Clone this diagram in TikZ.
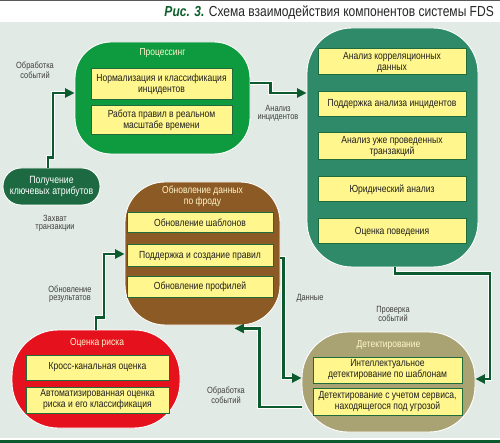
\documentclass[tikz,border=0pt]{standalone}
\usepackage{fontspec}
\setmainfont{Liberation Sans}
\newfontfamily\cond[FakeStretch=0.83]{Liberation Sans}
\usetikzlibrary{arrows.meta}
\definecolor{bgc}{HTML}{E2EAE5}
\definecolor{procc}{HTML}{0E9A3E}
\definecolor{analc}{HTML}{2E8A69}
\definecolor{recvc}{HTML}{1D6A42}
\definecolor{brownc}{HTML}{8C5A24}
\definecolor{redc}{HTML}{E5121E}
\definecolor{olivec}{HTML}{A9A373}
\definecolor{yboxc}{HTML}{FFF68E}
\definecolor{bordc}{HTML}{1F6B3C}
\definecolor{connc}{HTML}{0B5B2E}
\definecolor{ttlc}{HTML}{FFF6CC}
\definecolor{figc}{HTML}{0E5E2C}
\tikzset{
  zone/.style={rectangle, rounded corners=#1, draw=white, line width=0.9pt, inner sep=0pt},
  ybox/.style={rectangle, fill=yboxc, draw=bordc, line width=1pt, inner sep=0pt, align=center,
    font=\cond\fontsize{10.3}{11}\selectfont, text=black!88},
  ttl/.style={align=center, font=\cond\fontsize{10.2}{11.5}\selectfont, text=ttlc, inner sep=0pt},
  lbl/.style={align=center, font=\cond\fontsize{9}{8}\selectfont, text=black!75, inner sep=0pt},
  conn/.style={draw=connc, line width=2.8pt, -{Triangle[length=9.5pt,width=9pt]},
    preaction={draw=white, line width=4.4pt, -, shorten >=7pt}},
}
\begin{document}
\begin{tikzpicture}[x=1pt,y=-1pt]
\useasboundingbox (0,0) rectangle (500,443);
% frame
\fill[white] (0,0) rectangle (500,443);
\fill[black!65] (0,0) rectangle (500,1.5);
\fill[bgc] (0,22) rectangle (500,437.5);
\fill[connc] (0,439.5) rectangle (500,443);
\node[anchor=base east, inner sep=0pt, font=\cond\fontsize{14.5}{16}\selectfont, text=black!85] (title) at (494,16.5)
  {{\color{figc}\bfseries\itshape Рис. 3.} Схема взаимодействия компонентов системы FDS};

% zones
\node[zone=36, fill=procc, minimum width=175pt, minimum height=112pt] (proc) at (162.5,98) {};
\node[zone=45, fill=analc, minimum width=171pt, minimum height=239pt] (anal) at (392.5,147.5) {};
\node[zone=18, fill=recvc, minimum width=97pt, minimum height=37pt, align=center,
  font=\cond\fontsize{10.5}{11.5}\selectfont, text=white] (recv) at (51.5,186.5) {Получение\\ключевых атрибутов};
\node[zone=40, fill=brownc, minimum width=155pt, minimum height=143pt] (upd) at (202.5,253.5) {};
\node[zone=46, fill=redc, minimum width=168pt, minimum height=98pt] (risk) at (96,379) {};
\node[zone=46, fill=olivec, minimum width=173pt, minimum height=100pt] (det) at (388.5,382) {};

% titles
\node[ttl] (procT) at (162.5,53) {Процессинг};
\node[ttl] (updT) at (202.5,196.5) {Обновление данных\\по фроду};
\node[ttl] (riskT) at (97,343) {Оценка риска};
\node[ttl] (detT) at (388.5,345) {Детектирование};

% inner boxes
\node[ybox, minimum width=141pt, minimum height=31pt] (p1) at (161.5,84.5) {Нормализация и классификация\\инцидентов};
\node[ybox, minimum width=141pt, minimum height=29pt] (p2) at (161.5,120.5) {Работа правил в реальном\\масштабе времени};
\node[ybox, minimum width=148pt, minimum height=26pt] (a1) at (392,62) {Анализ корреляционных\\данных};
\node[ybox, minimum width=148pt, minimum height=25pt] (a2) at (392,104.5) {Поддержка анализа инцидентов};
\node[ybox, minimum width=148pt, minimum height=27pt] (a3) at (392,146.5) {Анализ уже проведенных\\транзакций};
\node[ybox, minimum width=148pt, minimum height=25pt] (a4) at (392,189.5) {Юридический анализ};
\node[ybox, minimum width=148pt, minimum height=25pt] (a5) at (392,231.5) {Оценка поведения};
\node[ybox, minimum width=146pt, minimum height=20pt] (u1) at (200,223) {Обновление шаблонов};
\node[ybox, minimum width=146pt, minimum height=22pt] (u2) at (200,256) {Поддержка и создание правил};
\node[ybox, minimum width=146pt, minimum height=20pt] (u3) at (200,287) {Обновление профилей};
\node[ybox, minimum width=143pt, minimum height=25pt] (r1) at (97.5,367.5) {Кросс-канальная оценка};
\node[ybox, minimum width=143pt, minimum height=26pt] (r2) at (97.5,400) {Автоматизированная оценка\\риска и его классификация};
\node[ybox, minimum width=149pt, minimum height=26pt] (d1) at (387.5,370) {Интеллектуальное\\детектирование по шаблонам};
\node[ybox, minimum width=149pt, minimum height=27pt] (d2) at (387.5,401.5) {Детектирование с учетом сервиса,\\находящегося под угрозой};

% labels
\node[lbl] (l1) at (35,70) {Обработка\\событий};
\node[lbl] (l2) at (278,113.5) {Анализ\\инцидентов};
\node[lbl] (l3) at (55,223.5) {Захват\\транзакции};
\node[lbl] (l4) at (70,294.5) {Обновление\\результатов};
\node[lbl] (l5) at (310,298) {Данные};
\node[lbl] (l6) at (393,314) {Проверка\\событий};
\node[lbl] (l7) at (226,395) {Обработка\\событий};

% connectors
\draw[conn] ([xshift=-3.5pt]recv.north) -- ++(0,-10) -- ++(5,0) |- ([yshift=5pt]proc.west);
\draw[conn] ([yshift=15pt]proc.east) -- ++(20,0) |- ([yshift=54.5pt]anal.west);
\draw[conn] ([xshift=2.5pt]anal.south) -- ++(0,6) -- ++(95,0) |- ([yshift=3pt]det.east);
\draw[conn] ([yshift=-4.5pt]upd.east) -- ++(3,0) |- ([yshift=4pt]det.west);
\draw[conn] ([yshift=-25pt]det.west) -- ++(-42,0) |- ([xshift=-46pt,yshift=-3pt]upd.south east);
\draw[conn] (risk.north) -- ++(0,-12) -- ++(8,0) |- ([yshift=-0.5pt]upd.west);
\end{tikzpicture}
\end{document}
